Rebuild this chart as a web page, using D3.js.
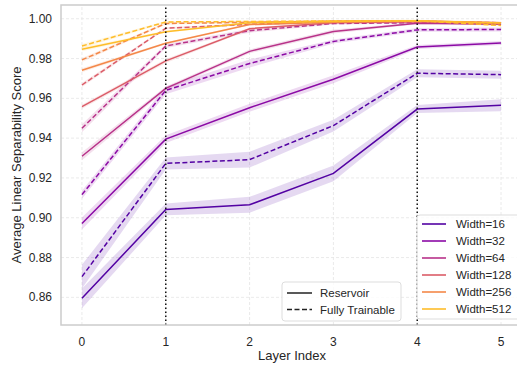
<!DOCTYPE html>
<html>
<head>
<meta charset="utf-8">
<script src="https://cdn.jsdelivr.net/npm/d3@7"></script>
<style>
  body { margin: 0; background: #fff; }
  svg text { font-family: "Liberation Sans", Arial, sans-serif; fill: #262626; }
</style>
</head>
<body>
<div id="chart"></div>
<script>
// layer indices on x
var layers = [0, 1, 2, 3, 4, 5]
var widths = [16, 32, 64, 128, 256, 512]

// mean scores, one row per width
var reservoir = [
  [0.8595, 0.9042, 0.9065, 0.9223, 0.9546, 0.9565],
  [0.8971, 0.9395, 0.9553, 0.9696, 0.9858, 0.9878],
  [0.9309, 0.9650, 0.9836, 0.9936, 0.9977, 0.9972],
  [0.9558, 0.9788, 0.9950, 0.9980, 0.9985, 0.9978],
  [0.9741, 0.9877, 0.9971, 0.9982, 0.9988, 0.9980],
  [0.9847, 0.9935, 0.9980, 0.9986, 0.9990, 0.9978]
]
var trainable = [
  [0.8704, 0.9273, 0.9292, 0.9463, 0.9726, 0.9719],
  [0.9116, 0.9640, 0.9775, 0.9886, 0.9944, 0.9946],
  [0.9450, 0.9863, 0.9940, 0.9976, 0.9980, 0.9978],
  [0.9667, 0.9952, 0.9972, 0.9985, 0.9988, 0.9980],
  [0.9793, 0.9976, 0.9982, 0.9988, 0.9988, 0.9975],
  [0.9863, 0.9984, 0.9986, 0.9989, 0.9990, 0.9966]
]
// half-width of the shaded band
var resCi = [
  [0.005, 0.003, 0.004, 0.004, 0.002, 0.003],
  [0.003, 0.002, 0.002, 0.002, 0.001, 0.001],
  [0.002, 0.001, 0.001, 0.001, 0.0005, 0.0005],
  [0.001, 0.001, 0.0005, 0.0005, 0.0005, 0.0005],
  [0.001, 0.0005, 0.0005, 0.0005, 0.0005, 0.0005],
  [0.001, 0.0005, 0.0005, 0.0005, 0.0005, 0.0005]
]
var trnCi = [
  [0.006, 0.003, 0.004, 0.003, 0.002, 0.002],
  [0.002, 0.002, 0.002, 0.001, 0.001, 0.001],
  [0.002, 0.001, 0.001, 0.0005, 0.0005, 0.0005],
  [0.001, 0.0005, 0.0005, 0.0005, 0.0005, 0.0005],
  [0.001, 0.0005, 0.0005, 0.0005, 0.0005, 0.0005],
  [0.001, 0.0005, 0.0005, 0.0005, 0.0005, 0.0005]
]
var yTicks = [0.86, 0.88, 0.90, 0.92, 0.94, 0.96, 0.98, 1.00]
var markLayers = [1, 4]

var width = 517, height = 368
var margin = {left: 61, top: 5, right: -5, bottom: 43}

var svg = d3.select("#chart").append("svg")
  .attr("width", width).attr("height", height)

var x = d3.scaleLinear().domain([-0.25, 5.25]).range([margin.left, width - margin.right])
var y = d3.scaleLinear().domain([0.8461, 1.0069]).range([height - margin.bottom, margin.top])

var colors = widths.map(function (w, i) { return d3.interpolatePlasma((i + 1) / 7) })

// grid
svg.append("g").selectAll("line").data(yTicks).enter().append("line")
  .attr("x1", x.range()[0]).attr("x2", x.range()[1])
  .attr("y1", d => y(d)).attr("y2", d => y(d))
  .attr("stroke", "#e4e4e4").attr("stroke-width", 0.8).attr("stroke-dasharray", "3,2")
svg.append("g").selectAll("line").data(layers).enter().append("line")
  .attr("x1", d => x(d)).attr("x2", d => x(d))
  .attr("y1", y.range()[0]).attr("y2", y.range()[1])
  .attr("stroke", "#e4e4e4").attr("stroke-width", 0.8).attr("stroke-dasharray", "3,2")

// bands then lines
var area = function (means, ci) {
  return d3.area()
    .x((d, i) => x(layers[i]))
    .y0((d, i) => y(means[i] - ci[i]))
    .y1((d, i) => y(means[i] + ci[i]))(means)
}
var line = d3.line().x((d, i) => x(layers[i])).y(d => y(d))

var series = []
widths.forEach(function (w, i) {
  series.push({means: reservoir[i], ci: resCi[i], color: colors[i], dash: null})
  series.push({means: trainable[i], ci: trnCi[i], color: colors[i], dash: "5,2.5"})
})

svg.append("g").selectAll("path").data(series).enter().append("path")
  .attr("d", d => area(d.means, d.ci))
  .attr("fill", d => d.color).attr("fill-opacity", 0.15).attr("stroke", "none")

svg.append("g").selectAll("path").data(series).enter().append("path")
  .attr("d", d => line(d.means))
  .attr("fill", "none").attr("stroke", d => d.color).attr("stroke-width", 1.5)
  .attr("stroke-dasharray", d => d.dash)

// vertical markers
svg.append("g").selectAll("line").data(markLayers).enter().append("line")
  .attr("x1", d => x(d)).attr("x2", d => x(d))
  .attr("y1", y.range()[0]).attr("y2", y.range()[1])
  .attr("stroke", "#111").attr("stroke-width", 1.5).attr("stroke-dasharray", "1.5,2.5")

// frame
svg.append("rect")
  .attr("x", x.range()[0]).attr("y", y.range()[1])
  .attr("width", x.range()[1] - x.range()[0]).attr("height", y.range()[0] - y.range()[1])
  .attr("fill", "none").attr("stroke", "#cccccc").attr("stroke-width", 1.5)

// ticks
svg.append("g").selectAll("text").data(layers).enter().append("text")
  .attr("x", d => x(d)).attr("y", y.range()[0] + 21)
  .attr("text-anchor", "middle").style("font-size", "12px")
  .text(d => d)
svg.append("g").selectAll("text").data(yTicks).enter().append("text")
  .attr("x", x.range()[0] - 9).attr("y", d => y(d) + 4)
  .attr("text-anchor", "end").style("font-size", "12px")
  .text(d => d3.format(".2f")(d))

svg.append("text").attr("x", 292).attr("y", 360)
  .attr("text-anchor", "middle").style("font-size", "13px").text("Layer Index")
svg.append("text").attr("transform", "translate(21," + ((y.range()[0] + y.range()[1]) / 2) + ") rotate(-90)")
  .attr("text-anchor", "middle").style("font-size", "13px").text("Average Linear Separability Score")

// style legend
var lg1 = svg.append("g").attr("transform", "translate(282,282)")
lg1.append("rect").attr("width", 119).attr("height", 39).attr("rx", 3)
  .attr("fill", "#fff").attr("fill-opacity", 0.8).attr("stroke", "#dddddd")
var styles = [{name: "Reservoir", dash: null}, {name: "Fully Trainable", dash: "5,2.5"}]
styles.forEach(function (s, i) {
  lg1.append("line").attr("x1", 5).attr("x2", 30).attr("y1", 11 + i * 16.5).attr("y2", 11 + i * 16.5)
    .attr("stroke", "#222").attr("stroke-width", 1.5).attr("stroke-dasharray", s.dash)
  lg1.append("text").attr("x", 38).attr("y", 15 + i * 16.5).style("font-size", "11.5px").text(s.name)
})

// width legend
var lg2 = svg.append("g").attr("transform", "translate(417,215)")
lg2.append("rect").attr("width", 110).attr("height", 104).attr("rx", 3)
  .attr("fill", "#fff").attr("fill-opacity", 0.8).attr("stroke", "#dddddd")
widths.forEach(function (w, i) {
  lg2.append("line").attr("x1", 5).attr("x2", 29).attr("y1", 9 + i * 17).attr("y2", 9 + i * 17)
    .attr("stroke", colors[i]).attr("stroke-opacity", 0.8).attr("stroke-width", 2)
  lg2.append("text").attr("x", 39).attr("y", 13 + i * 17).style("font-size", "11.5px").text("Width=" + w)
})
</script>
</body>
</html>
